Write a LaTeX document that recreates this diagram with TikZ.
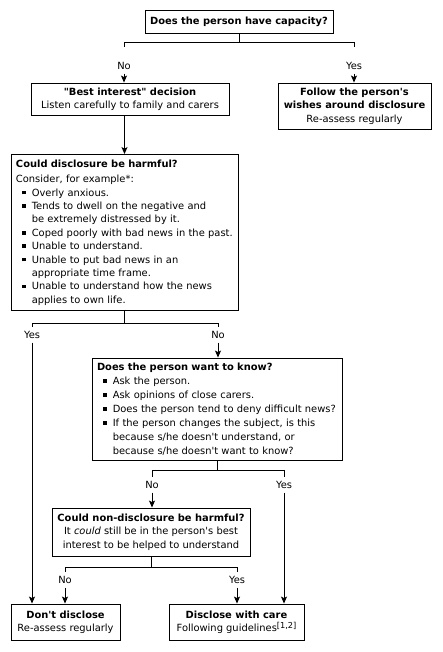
\documentclass[tikz,border=0pt]{standalone}
\usepackage{fontspec}
\setmainfont{DejaVu Sans}[Ligatures=TeXOff]
\usetikzlibrary{arrows.meta,calc}

% square bullet and hanging indent for list lines
\newcommand{\bsq}{\hspace*{6pt}\rule[1.6pt]{3.6pt}{3.6pt}\hspace*{6.2pt}}
\newcommand{\cont}{\hspace*{15.8pt}}

\tikzset{
  box/.style={draw, line width=0.9pt, inner sep=0pt, align=center,
              font=\fontsize{9.9}{13.4}\selectfont},
  listbox/.style={box, align=left, inner xsep=5pt},
  lbl/.style={inner sep=0pt, minimum height=15pt,
              font=\fontsize{9.9}{10}\selectfont},
  link/.style={line width=0.9pt},
  arr/.style={link, -{Stealth[length=7pt,width=6pt,inset=1.5pt]}}
}

\begin{document}
\begin{tikzpicture}[x=1pt,y=-1pt]
  \fill[white] (0,0) rectangle (442,652);
  \useasboundingbox (0,0) rectangle (442,652);

  % decision and outcome boxes
  \node[box, minimum width=188pt, minimum height=23pt] (cap) at (239,21.5)
    {\textbf{Does the person have capacity?}};
  \node[box, minimum width=198pt, minimum height=32pt] (best) at (130,99)
    {\textbf{"Best interest" decision}\\Listen carefully to family and carers};
  \node[box, minimum width=153pt, minimum height=46pt] (wish) at (354.5,106)
    {\textbf{Follow the person's}\\\textbf{wishes around disclosure}\\Re-assess regularly};
  \node[listbox, text width=217pt, minimum height=156pt] (harm) at (124.5,232.5)
    {\textbf{Could disclosure be harmful?}\\[2pt]
     Consider, for example*:\\
     \bsq Overly anxious.\\
     \bsq Tends to dwell on the negative and\\
     \cont be extremely distressed by it.\\
     \bsq Coped poorly with bad news in the past.\\
     \bsq Unable to understand.\\
     \bsq Unable to put bad news in an\\
     \cont appropriate time frame.\\
     \bsq Unable to understand how the news\\
     \cont applies to own life.};
  \node[listbox, text width=240pt, minimum height=102pt,
        font=\fontsize{9.9}{14}\selectfont] (know) at (217,409)
    {\textbf{Does the person want to know?}\\[0.5pt]
     \bsq Ask the person.\\
     \bsq Ask opinions of close carers.\\
     \bsq Does the person tend to deny difficult news?\\
     \bsq If the person changes the subject, is this\\
     \cont because s/he doesn't understand, or\\
     \cont because s/he doesn't want to know?};
  \node[box, minimum width=198pt, minimum height=48pt] (nond) at (151,532)
    {\textbf{Could non-disclosure be harmful?}\\It \textit{could} still be in the person's best\\interest to be helped to understand};
  \node[box, minimum width=109pt, minimum height=36pt] (dont) at (65.5,622)
    {\textbf{Don't disclose}\\Re-assess regularly};
  \node[box, minimum width=135pt, minimum height=36pt] (care) at (236.5,622)
    {\textbf{Disclose with care}\\Following guidelines\raisebox{3pt}{\fontsize{8.2}{8}\selectfont[1,2]}};

  % branch labels
  \node[lbl] (no1)  at (124,66)  {No};
  \node[lbl] (yes1) at (354,66)  {Yes};
  \node[lbl] (yes2) at (32,335)  {Yes};
  \node[lbl] (no2)  at (218,335) {No};
  \node[lbl] (no3)  at (152,485) {No};
  \node[lbl] (yes3) at (284,485) {Yes};
  \node[lbl] (no4)  at (65,580)  {No};
  \node[lbl] (yes4) at (237,580) {Yes};

  % branching trees
  \draw[link, shorten >=11.5pt] (cap.south) -- ++(0,9) -| (no1.north);
  \draw[link, shorten >=11.5pt] (cap.south) -- ++(0,9) -| (yes1.north);
  \draw[link] (harm.south) -- ++(0,12) -| (yes2.north);
  \draw[link] (harm.south) -- ++(0,12) -| (no2.north);
  \draw[link] (know.south) -- ++(0,10) -| (no3.north);
  \draw[link] (know.south) -- ++(0,10) -| (yes3.north);
  \draw[link] (nond.south) -- ++(0,11) -| (no4.north);
  \draw[link] (nond.south) -- ++(0,11) -| (yes4.north);

  % arrows into boxes
  \draw[arr] (no1.south) -- (no1.south |- best.north);
  \draw[arr] (yes1.south) -- (yes1.south |- wish.north);
  \draw[arr] (best.south -| harm.north) -- (harm.north);
  \draw[arr] (yes2.south) -- (yes2.south |- dont.north);
  \draw[arr] (no2.south) -- (no2.south |- know.north);
  \draw[arr] (no3.south) -- (no3.south |- nond.north);
  \draw[arr] (yes3.south) -- (yes3.south |- care.north);
  \draw[arr] (no4.south) -- (no4.south |- dont.north);
  \draw[arr] (yes4.south) -- (yes4.south |- care.north);
\end{tikzpicture}
\end{document}
